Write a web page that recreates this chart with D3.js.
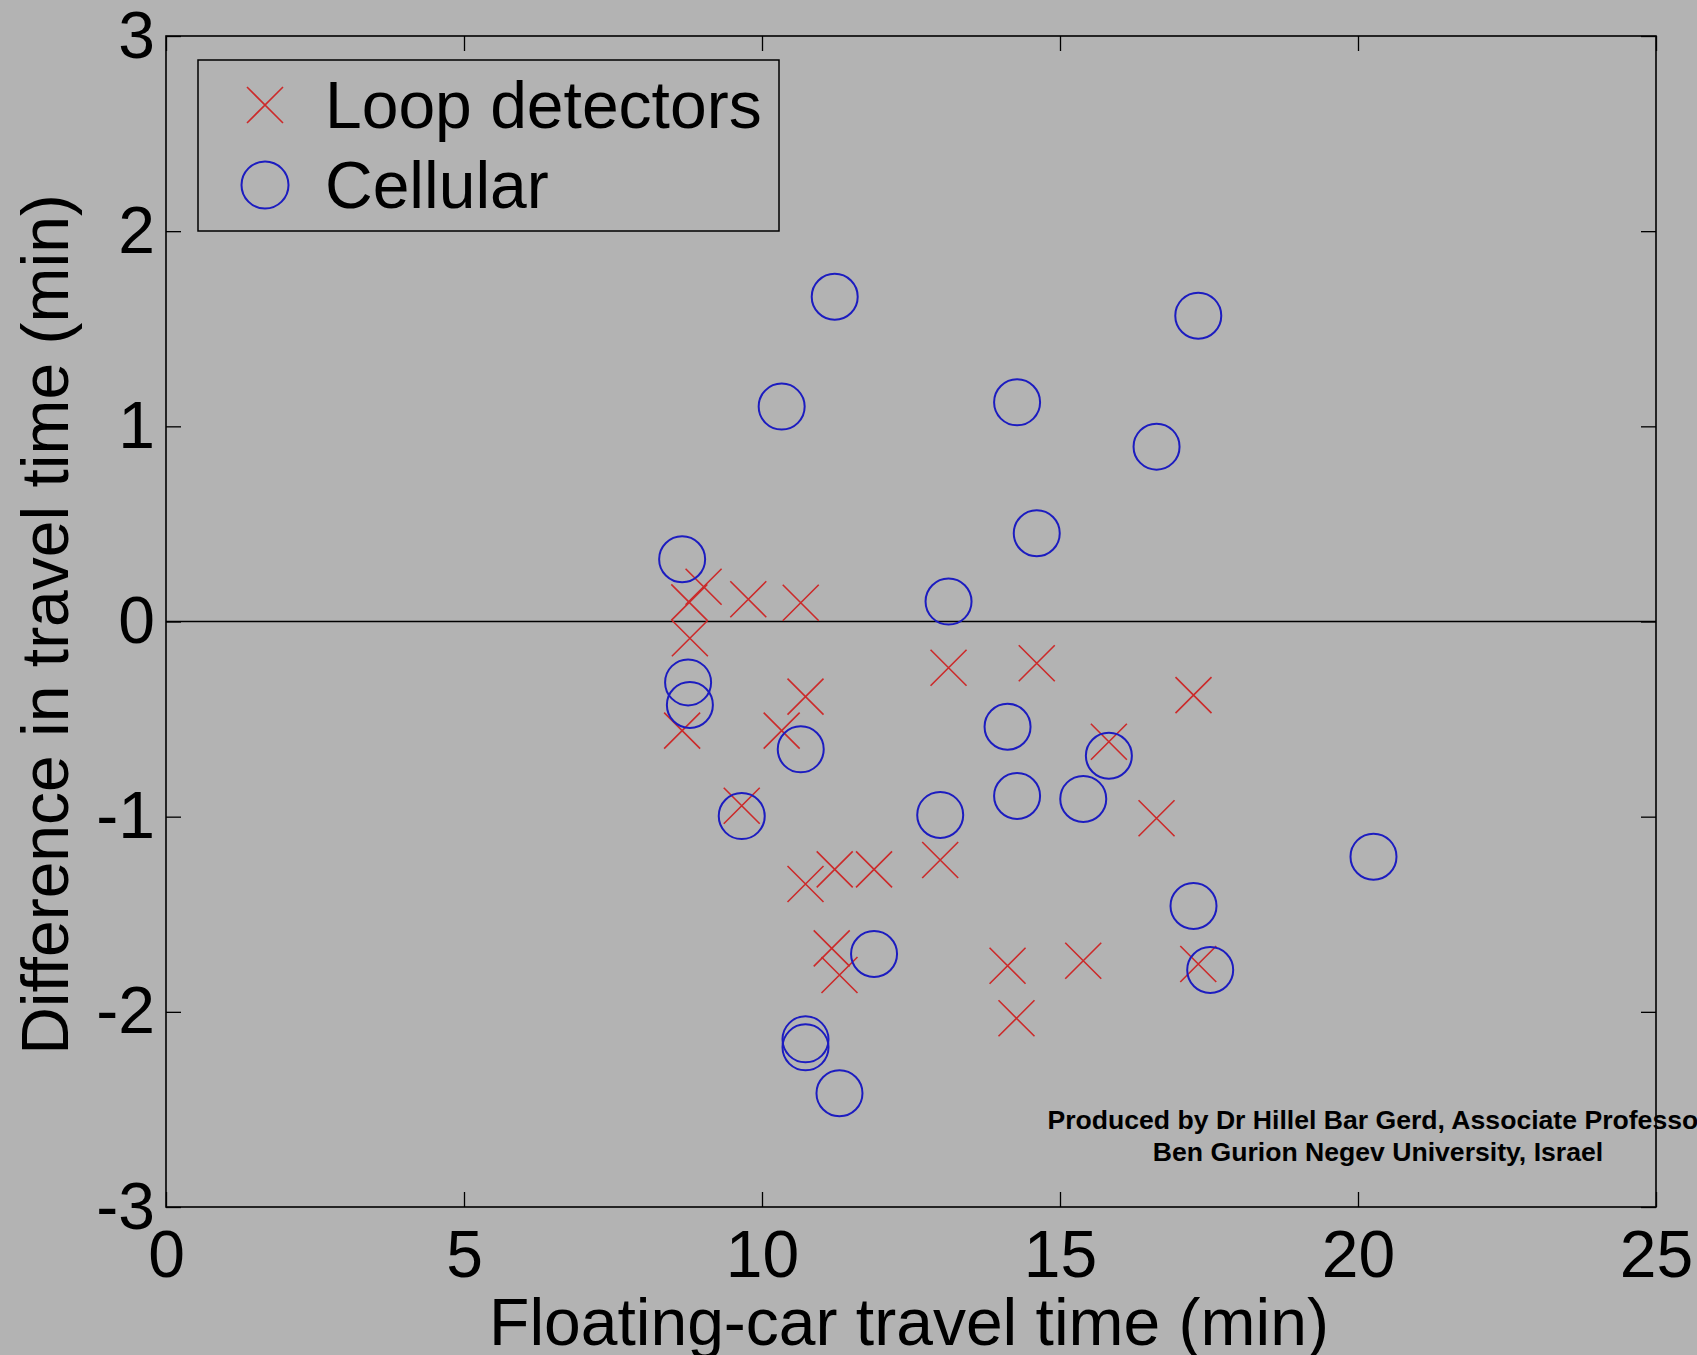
<!DOCTYPE html>
<html><head><meta charset="utf-8">
<script src="https://cdn.jsdelivr.net/npm/d3@7"></script>
<style>
html,body{margin:0;padding:0;background:#b3b3b3;}
svg{display:block;}
</style>
</head><body>
<svg id="chart" width="1697" height="1355"></svg>
<script>
// Loop detectors (red x markers)
const loopX = [9.02, 8.78, 8.79, 9.77, 10.65, 10.73, 10.33, 8.66, 9.66, 13.13, 14.61, 17.24,
               15.82, 16.62, 12.99, 10.73, 11.22, 11.88, 11.17, 11.30, 14.12, 14.27, 15.39, 17.32];
const loopY = [0.178, 0.098, -0.086, 0.114, 0.096, -0.385, -0.559, -0.559, -0.944, -0.237, -0.214, -0.377,
               -0.616, -1.008, -1.222, -1.345, -1.270, -1.270, -1.675, -1.811, -1.764, -2.033, -1.738, -1.755];
// Cellular (blue circles)
const cellX = [11.22, 17.32, 10.33, 14.28, 16.62, 14.61, 8.66, 13.13, 8.76, 8.79, 10.65, 14.12,
               15.82, 14.28, 15.39, 9.66, 12.99, 20.26, 17.24, 11.88, 17.52, 10.73, 10.73, 11.30];
const cellY = [1.664, 1.567, 1.101, 1.123, 0.896, 0.452, 0.319, 0.102, -0.312, -0.428, -0.655, -0.539,
               -0.688, -0.894, -0.909, -0.997, -0.991, -1.205, -1.458, -1.704, -1.786, -2.141, -2.182, -2.417];

const xTicks = [0, 5, 10, 15, 20, 25];
const yTicks = [-3, -2, -1, 0, 1, 2, 3];
const xDomain = [0, 25];
const yDomain = [-3, 3];
const seriesNames = ["Loop detectors", "Cellular"];
const xLabel = "Floating-car travel time (min)";
const yLabel = "Difference in travel time (min)";
const credits = ["Produced by Dr Hillel Bar Gerd, Associate Professor",
                 "Ben Gurion Negev University, Israel"];

(function () {
const FONT = "'Liberation Sans', Arial, Helvetica, sans-serif";
const RED = "#cc2a2a", BLUE = "#1c1cc0";
const pLeft = 166, pRight = 1656, pTop = 36, pBottom = 1207;

const svg = d3.select("#chart");
svg.append("rect").attr("width", 1697).attr("height", 1355).attr("fill", "#b3b3b3");

const x = d3.scaleLinear().domain(xDomain).range([pLeft, pRight]);
const y = d3.scaleLinear().domain(yDomain).range([pBottom, pTop]);

const TL = 15;
function styleAxis(g) {
  g.select(".domain").remove();
  g.selectAll(".tick line").attr("stroke", "#000").attr("stroke-width", 1.3);
  g.selectAll(".tick text").attr("fill", "#000").style("font-family", FONT).style("font-size", "66px");
}

svg.append("g").attr("transform", `translate(0,${pBottom})`)
  .call(d3.axisBottom(x).tickValues(xTicks).tickSizeInner(-TL).tickSizeOuter(0).tickPadding(23).tickFormat(d3.format("d")))
  .call(styleAxis);
svg.append("g").attr("transform", `translate(0,${pTop})`)
  .call(d3.axisTop(x).tickValues(xTicks).tickSizeInner(-TL).tickSizeOuter(0).tickFormat(""))
  .call(styleAxis);
const yAx = svg.append("g").attr("transform", `translate(${pLeft},0)`)
  .call(d3.axisLeft(y).tickValues(yTicks).tickSizeInner(-TL).tickSizeOuter(0).tickPadding(11).tickFormat(d3.format("d")))
  .call(styleAxis);
yAx.selectAll(".tick text").text(d => d < 0 ? "-" + Math.abs(d) : d);
svg.append("g").attr("transform", `translate(${pRight},0)`)
  .call(d3.axisRight(y).tickValues(yTicks).tickSizeInner(-TL).tickSizeOuter(0).tickFormat(""))
  .call(styleAxis);

// zero line
svg.append("line").attr("x1", x(xDomain[0])).attr("x2", x(xDomain[1]))
  .attr("y1", y(0)).attr("y2", y(0)).attr("stroke", "#000").attr("stroke-width", 1.5);

// plot box
svg.append("rect").attr("x", pLeft).attr("y", pTop).attr("width", pRight - pLeft).attr("height", pBottom - pTop)
  .attr("fill", "none").attr("stroke", "#000").attr("stroke-width", 1.6);

const S = 18;
function xPath(cx, cy, s) {
  return `M${cx - s},${cy - s}L${cx + s},${cy + s}M${cx - s},${cy + s}L${cx + s},${cy - s}`;
}
const loopData = loopX.map((v, i) => ({x: v, y: loopY[i]}));
const cellData = cellX.map((v, i) => ({x: v, y: cellY[i]}));

svg.append("g").selectAll("path").data(loopData).join("path")
  .attr("d", d => xPath(x(d.x), y(d.y), S))
  .attr("stroke", RED).attr("stroke-width", 1.6).attr("fill", "none");

svg.append("g").selectAll("circle").data(cellData).join("circle")
  .attr("cx", d => x(d.x)).attr("cy", d => y(d.y)).attr("r", 23)
  .attr("stroke", BLUE).attr("stroke-width", 2).attr("fill", "none");

// legend
const lg = svg.append("g");
lg.append("rect").attr("x", 198).attr("y", 60).attr("width", 581).attr("height", 171)
  .attr("fill", "#b3b3b3").attr("stroke", "#000").attr("stroke-width", 1.5);
lg.append("path").attr("d", xPath(265, 105, S)).attr("stroke", RED).attr("stroke-width", 1.6).attr("fill", "none");
lg.append("circle").attr("cx", 265).attr("cy", 185).attr("r", 23.5).attr("stroke", BLUE).attr("stroke-width", 2).attr("fill", "none");
lg.selectAll("text").data(seriesNames).join("text")
  .attr("x", 325).attr("y", (d, i) => i === 0 ? 128 : 208)
  .style("font-family", FONT).style("font-size", "66px").attr("fill", "#000")
  .text(d => d);

// axis labels
svg.append("text").attr("x", (pLeft + pRight) / 2 - 2).attr("y", 1345).attr("text-anchor", "middle")
  .style("font-family", FONT).style("font-size", "66px").attr("fill", "#000").text(xLabel);
svg.append("text").attr("transform", `translate(68,${(pTop + pBottom) / 2 + 3}) rotate(-90)`).attr("text-anchor", "middle")
  .style("font-family", FONT).style("font-size", "66px").attr("fill", "#000").text(yLabel);

// credits
svg.append("g").selectAll("text").data(credits).join("text")
  .attr("x", 1378).attr("y", (d, i) => i === 0 ? 1129 : 1161).attr("text-anchor", "middle")
  .style("font-family", FONT).style("font-size", "26.6px").style("font-weight", "bold").attr("fill", "#000")
  .text(d => d);
})();
</script>
</body></html>
